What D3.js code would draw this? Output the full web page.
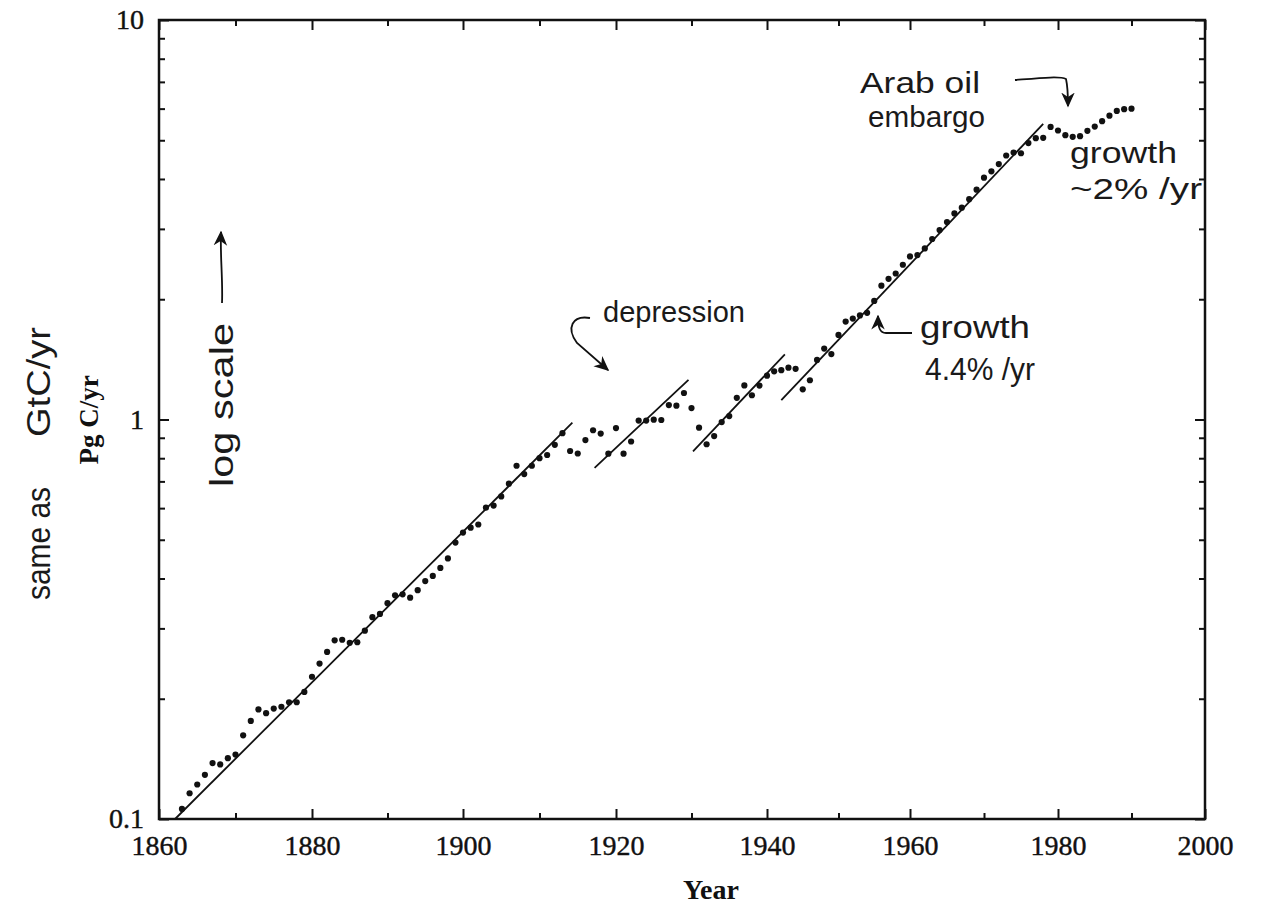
<!DOCTYPE html>
<html>
<head>
<meta charset="utf-8">
<script src="https://cdn.jsdelivr.net/npm/d3@7"></script>
<style>
  body { margin: 0; background: #fff; }
  .tick text { font-family: "Liberation Serif", "Times New Roman", serif; font-size: 28px; fill: #111; stroke: #111; stroke-width: 0.4px; }
  .axis-title { font-family: "Liberation Serif", "Times New Roman", serif; font-weight: bold; fill: #111; }
  .hand { font-family: "Liberation Sans", "DejaVu Sans", sans-serif; font-weight: 400; fill: #1a1a1a; }
</style>
</head>
<body>
<div id="chart"></div>
<script>
// Fossil-fuel carbon emissions per year, log scale, with hand-written notes

// Years with a plotted dot
const years = [
  1863, 1864, 1865, 1866, 1867, 1868, 1869, 1870, 1871, 1872,
  1873, 1874, 1875, 1876, 1877, 1878, 1879, 1880, 1881, 1882,
  1883, 1884, 1885, 1886, 1887, 1888, 1889, 1890, 1891, 1892,
  1893, 1894, 1895, 1896, 1897, 1898, 1899, 1900, 1901, 1902,
  1903, 1904, 1905, 1906, 1907, 1908, 1909, 1910, 1911, 1912,
  1913, 1914, 1915, 1916, 1917, 1918, 1919, 1920, 1921, 1922,
  1923, 1924, 1925, 1926, 1927, 1928, 1929, 1930, 1931, 1932,
  1933, 1934, 1935, 1936, 1937, 1938, 1939, 1940, 1941, 1942,
  1943, 1944, 1945, 1946, 1947, 1948, 1949, 1950, 1951, 1952,
  1953, 1954, 1955, 1956, 1957, 1958, 1959, 1960, 1961, 1962,
  1963, 1964, 1965, 1966, 1967, 1968, 1969, 1970, 1971, 1972,
  1973, 1974, 1975, 1976, 1977, 1978, 1979, 1980, 1981, 1982,
  1983, 1984, 1985, 1986, 1987, 1988, 1989, 1990
];

// Emissions, Pg C/yr
const emissions = [
  0.106, 0.116, 0.122, 0.129, 0.138, 0.137, 0.142, 0.145, 0.162, 0.176,
  0.188, 0.184, 0.189, 0.191, 0.196, 0.196, 0.208, 0.227, 0.245, 0.262,
  0.280, 0.281, 0.276, 0.277, 0.296, 0.320, 0.326, 0.347, 0.363, 0.365,
  0.358, 0.374, 0.394, 0.406, 0.425, 0.449, 0.492, 0.521, 0.536, 0.546,
  0.602, 0.609, 0.642, 0.691, 0.766, 0.730, 0.766, 0.800, 0.815, 0.864,
  0.924, 0.834, 0.822, 0.888, 0.940, 0.922, 0.821, 0.952, 0.821, 0.881,
  0.994, 0.994, 0.999, 0.997, 1.087, 1.083, 1.165, 1.068, 0.954, 0.867,
  0.909, 0.985, 1.020, 1.133, 1.217, 1.150, 1.216, 1.287, 1.320, 1.329,
  1.348, 1.339, 1.190, 1.254, 1.410, 1.505, 1.458, 1.628, 1.758, 1.789,
  1.822, 1.849, 1.981, 2.163, 2.25, 2.32, 2.44, 2.56, 2.58, 2.68,
  2.83, 2.98, 3.12, 3.28, 3.39, 3.56, 3.76, 4.03, 4.18, 4.36,
  4.58, 4.66, 4.64, 4.92, 5.06, 5.07, 5.40, 5.29, 5.15, 5.10,
  5.12, 5.28, 5.41, 5.58, 5.76, 5.92, 5.98, 6.00
];

// Straight growth fits: [start year, start value, end year, end value]
const fitLines = [
  [1862.1, 0.100, 1914.3, 0.982],
  [1917.2, 0.757, 1929.6, 1.256],
  [1930.2, 0.832, 1942.5, 1.456],
  [1942.0, 1.118, 1978.0, 5.495]
];

// Tick values
const xMajor = [1860, 1880, 1900, 1920, 1940, 1960, 1980, 2000];
const xMinor = [1870, 1890, 1910, 1930, 1950, 1970, 1990];
const yMajor = [0.1, 1, 10];
const yMinor = [0.2, 0.3, 0.4, 0.5, 0.6, 0.7, 0.8, 0.9, 2, 3, 4, 5, 6, 7, 8, 9];

const width = 1261, height = 907;
const plotLeft = 159, plotRight = 1205, plotTop = 20, plotBottom = 819;
const ink = "#111";

const svg = d3.select("#chart")
  .append("svg")
  .attr("width", width)
  .attr("height", height)
  .style("background", "#fff");

// The printed page is a little uneven, so pin the year scale to its major ticks
const x = d3.scaleLinear()
  .domain(xMajor)
  .range([159, 312, 463, 616, 767, 910, 1058, 1205]);

const y = d3.scaleLog()
  .domain([0.1, 10])
  .range([plotBottom, plotTop]);

// arrow head
svg.append("defs").append("marker")
  .attr("id", "arrow")
  .attr("viewBox", "0 0 10 10")
  .attr("refX", 9)
  .attr("refY", 5)
  .attr("markerUnits", "userSpaceOnUse")
  .attr("markerWidth", 15)
  .attr("markerHeight", 15)
  .attr("orient", "auto")
  .append("path")
  .attr("d", "M0,0.5 L10,5 L0,9.5 L3,5 z")
  .attr("fill", ink);

function styleAxis(g) {
  g.select(".domain").remove();
  g.selectAll(".tick line").attr("stroke", ink).attr("stroke-width", 2);
}

// Bottom axis (labels + major ticks), minor ticks
svg.append("g")
  .attr("transform", `translate(0,${plotBottom})`)
  .call(d3.axisBottom(x).tickValues(xMajor).tickFormat(d3.format("d"))
    .tickSizeInner(-10).tickSizeOuter(0).tickPadding(16))
  .call(styleAxis);
svg.append("g")
  .attr("transform", `translate(0,${plotBottom})`)
  .call(d3.axisBottom(x).tickValues(xMinor).tickFormat("")
    .tickSizeInner(-6).tickSizeOuter(0))
  .call(styleAxis);

// Top axis ticks
svg.append("g")
  .attr("transform", `translate(0,${plotTop})`)
  .call(d3.axisTop(x).tickValues(xMajor).tickFormat("")
    .tickSizeInner(-10).tickSizeOuter(0))
  .call(styleAxis);
svg.append("g")
  .attr("transform", `translate(0,${plotTop})`)
  .call(d3.axisTop(x).tickValues(xMinor).tickFormat("")
    .tickSizeInner(-6).tickSizeOuter(0))
  .call(styleAxis);

// Left axis
svg.append("g")
  .attr("transform", `translate(${plotLeft},0)`)
  .call(d3.axisLeft(y).tickValues(yMajor).tickFormat(d => d === 0.1 ? "0.1" : String(d))
    .tickSizeInner(-10).tickSizeOuter(0).tickPadding(15))
  .call(styleAxis);
svg.append("g")
  .attr("transform", `translate(${plotLeft},0)`)
  .call(d3.axisLeft(y).tickValues(yMinor).tickFormat("")
    .tickSizeInner(-6).tickSizeOuter(0))
  .call(styleAxis);

// Right axis ticks
svg.append("g")
  .attr("transform", `translate(${plotRight},0)`)
  .call(d3.axisRight(y).tickValues(yMajor).tickFormat("")
    .tickSizeInner(-10).tickSizeOuter(0))
  .call(styleAxis);
svg.append("g")
  .attr("transform", `translate(${plotRight},0)`)
  .call(d3.axisRight(y).tickValues(yMinor).tickFormat("")
    .tickSizeInner(-6).tickSizeOuter(0))
  .call(styleAxis);

// Frame
svg.append("rect")
  .attr("x", plotLeft)
  .attr("y", plotTop)
  .attr("width", plotRight - plotLeft)
  .attr("height", plotBottom - plotTop)
  .attr("fill", "none")
  .attr("stroke", ink)
  .attr("stroke-width", 2.5);

// Axis titles
svg.append("text")
  .attr("class", "axis-title")
  .attr("x", 711)
  .attr("y", 899)
  .attr("text-anchor", "middle")
  .style("font-size", "28px")
  .text("Year");

svg.append("text")
  .attr("class", "axis-title")
  .attr("transform", "translate(98,420) rotate(-90)")
  .attr("text-anchor", "middle")
  .style("font-size", "27px")
  .text("Pg C/yr");

// Fit lines
svg.append("g")
  .selectAll("line")
  .data(fitLines)
  .join("line")
  .attr("x1", d => x(d[0]))
  .attr("y1", d => y(d[1]))
  .attr("x2", d => x(d[2]))
  .attr("y2", d => y(d[3]))
  .attr("stroke", ink)
  .attr("stroke-width", 1.8);

// Data dots
svg.append("g")
  .selectAll("circle")
  .data(years)
  .join("circle")
  .attr("cx", d => x(d))
  .attr("cy", (d, i) => y(emissions[i]))
  .attr("r", 3.1)
  .attr("fill", ink);

// Hand-written notes (tall, narrow letters like the pen notes)
const notes = [
  { text: "same as", transform: "translate(50,600) rotate(-90)", size: 33, len: 113 },
  { text: "GtC/yr", transform: "translate(50,437) rotate(-90)", size: 34, len: 110 },
  { text: "log scale", transform: "translate(233,487) rotate(-90)", size: 33, len: 164 },
  { text: "depression", transform: "translate(603,322)", size: 29, len: 142 },
  { text: "growth", transform: "translate(920,338)", size: 32, len: 110 },
  { text: "4.4% /yr", transform: "translate(925,380)", size: 32, len: 110 },
  { text: "Arab oil", transform: "translate(860,93)", size: 30, len: 120 },
  { text: "embargo", transform: "translate(868,127)", size: 30, len: 117 },
  { text: "growth", transform: "translate(1070,163)", size: 30, len: 107 },
  { text: "~2% /yr", transform: "translate(1070,199)", size: 30, len: 132 }
];

svg.append("g")
  .selectAll("text")
  .data(notes)
  .join("text")
  .attr("class", "hand")
  .attr("transform", d => d.transform)
  .attr("textLength", d => d.len)
  .attr("lengthAdjust", "spacingAndGlyphs")
  .style("font-size", d => d.size + "px")
  .text(d => d.text);

// Hand-drawn arrows
const arrows = [
  "M222,303 C223,280 220,255 221,232",
  "M590,318 C572,315 566,328 577,343 L608,370",
  "M912,333 L886,333 C880,333 878,328 878,316",
  "M1015,80 C1040,78 1060,76 1066,79 C1068,88 1068,96 1068,106"
];

svg.append("g")
  .selectAll("path")
  .data(arrows)
  .join("path")
  .attr("d", d => d)
  .attr("fill", "none")
  .attr("stroke", ink)
  .attr("stroke-width", 1.8)
  .attr("marker-end", "url(#arrow)");
</script>
</body>
</html>
